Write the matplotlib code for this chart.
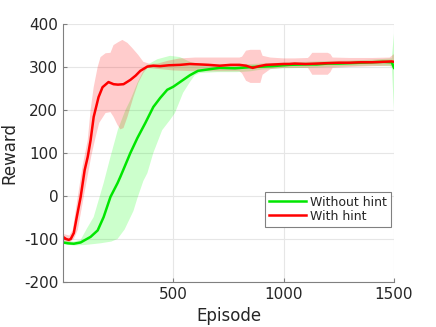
import matplotlib
matplotlib.use("Agg")
import matplotlib.pyplot as plt

# ---- data ----
red_ep = [1, 15, 27, 36, 50, 63, 81, 99, 113, 126, 140, 162, 180, 207, 230, 250, 275, 306, 330, 351, 383, 410,
          441, 480, 531, 575, 621, 660, 711, 760, 800, 830, 860, 890, 920, 960, 1000, 1026, 1050, 1100, 1150,
          1200, 1250, 1300, 1350, 1400, 1450, 1490, 1500]
red_mean = [-95, -100, -102, -100, -86, -50, -2, 60, 91, 130, 184, 230, 253, 265, 260, 259, 260, 270, 280, 291,
            301, 303, 302, 304, 305, 307, 306, 305, 303, 305, 305, 303, 298, 302, 305, 306, 307, 307, 308, 307,
            308, 309, 310, 310, 311, 311, 312, 313, 312]

red_up_ep = [1, 30, 45, 68, 90, 113, 126, 140, 158, 171, 194, 216, 230, 252, 270, 293, 315, 342, 365, 396, 430,
             480, 530, 600, 700, 800, 812, 830, 850, 895, 905, 940, 1000, 1050, 1110, 1118, 1130, 1200, 1212,
             1222, 1300, 1400, 1480, 1500]
red_up = [-88, -92, -79, -2, 70, 130, 200, 253, 300, 323, 332, 333, 351, 358, 363, 356, 344, 328, 312, 307, 308,
          315, 320, 322, 322, 322, 324, 338, 340, 340, 326, 322, 320, 320, 321, 325, 333, 333, 330, 322, 321,
          321, 322, 330]

red_lo_ep = [1, 30, 50, 68, 95, 130, 148, 165, 194, 216, 230, 248, 261, 275, 293, 320, 342, 365, 383, 420, 500,
             600, 700, 800, 812, 830, 850, 895, 905, 940, 1000, 1110, 1118, 1130, 1200, 1212, 1222, 1300, 1400,
             1480, 1500]
red_lo = [-105, -108, -100, -79, -2, 95, 135, 170, 193, 195, 184, 165, 155, 158, 184, 230, 263, 286, 298, 296,
          292, 290, 290, 290, 285, 268, 263, 263, 282, 295, 298, 298, 292, 282, 282, 288, 298, 300, 302, 303, 298]

green_ep = [1, 23, 50, 81, 126, 158, 185, 216, 248, 261, 275, 293, 306, 338, 374, 410, 441, 473, 500, 531, 576,
            612, 666, 711, 780, 860, 950, 1026, 1100, 1150, 1200, 1250, 1300, 1350, 1400, 1450, 1490, 1500]
green_mean = [-108, -110, -111, -108, -95, -80, -49, -2, 30, 45, 62, 84, 100, 135, 170, 207, 228, 247, 254, 265,
              281, 291, 295, 298, 297, 300, 302, 305, 306, 306, 308, 308, 309, 310, 311, 312, 311, 298]

green_lo_ep = [1, 50, 100, 171, 220, 248, 280, 320, 338, 365, 383, 410, 450, 486, 508, 545, 576, 598, 621, 700,
               788, 850, 900, 1000, 1100, 1200, 1300, 1400, 1490, 1500]
green_lo = [-112, -115, -114, -110, -106, -100, -78, -35, -5, 35, 53, 100, 153, 177, 193, 240, 265, 281, 286, 288,
            288, 290, 294, 297, 298, 300, 302, 303, 302, 200]

green_up_ep = [1, 50, 81, 110, 140, 185, 216, 250, 284, 306, 338, 360, 383, 428, 486, 531, 576, 610, 700, 800,
               900, 1000, 1100, 1200, 1300, 1400, 1490, 1500]
green_up = [-104, -106, -102, -75, -49, 30, 91, 155, 200, 223, 263, 286, 305, 318, 326, 323, 312, 308, 306, 306,
            308, 310, 312, 314, 315, 317, 320, 378]

labels = ["Without hint", "With hint"]
xticks = [500, 1000, 1500]
yticks = [-200, -100, 0, 100, 200, 300, 400]

# ---- figure ----
fig = plt.figure(figsize=(4.36, 3.27), dpi=100)
ax = fig.add_axes([63 / 436, 45 / 327, 331 / 436, 258 / 327])

txt = "#262626"
ax.fill(green_up_ep + green_lo_ep[::-1], green_up + green_lo[::-1], color=(0, 1, 0), alpha=0.2, lw=0)
ax.fill(red_up_ep + red_lo_ep[::-1], red_up + red_lo[::-1], color=(1, 0, 0), alpha=0.2, lw=0)
ax.plot(green_ep, green_mean, color=(0, 0.9, 0), lw=1.8, label=labels[0])
ax.plot(red_ep, red_mean, color=(1, 0, 0), lw=1.8, label=labels[1])

ax.set_xlim(1, 1500)
ax.set_ylim(-200, 400)
ax.set_xticks(xticks)
ax.set_yticks(yticks)
ax.set_yticklabels([str(v) for v in yticks])
ax.grid(True, color="#e6e6e6", lw=0.8)
ax.set_axisbelow(True)
for s in ["top", "right"]:
    ax.spines[s].set_visible(False)
for s in ["left", "bottom"]:
    ax.spines[s].set_color("#808080")
    ax.spines[s].set_linewidth(0.8)
ax.tick_params(direction="in", length=3, colors="#808080", labelcolor=txt, labelsize=11)
ax.set_xlabel("Episode", fontsize=12, color=txt)
ax.set_ylabel("Reward", fontsize=12, color=txt)

leg = ax.legend(loc="lower right", bbox_to_anchor=(0.99, 0.215), fontsize=9, frameon=True, fancybox=False,
                framealpha=1, edgecolor="#808080", borderpad=0.3, handlelength=3.0, handletextpad=0.3,
                labelspacing=0.1, borderaxespad=0)
leg.get_frame().set_linewidth(0.8)
for t in leg.get_texts():
    t.set_color(txt)

fig.savefig("out.png", dpi=100)
